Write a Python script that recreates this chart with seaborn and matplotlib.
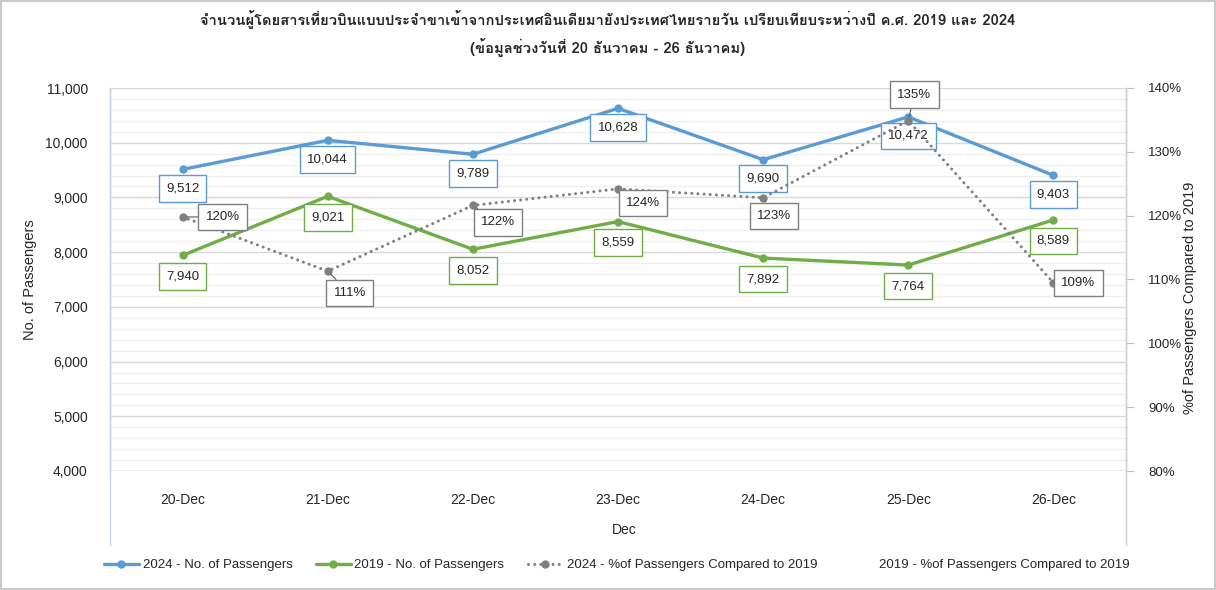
import numpy as np
import pandas as pd
import matplotlib
matplotlib.use("Agg")
import matplotlib.pyplot as plt
import seaborn as sns
from matplotlib import font_manager, ft2font
from matplotlib.lines import Line2D
from matplotlib.patches import Rectangle
from matplotlib.ticker import FuncFormatter, MultipleLocator, PercentFormatter

days = ["20-Dec", "21-Dec", "22-Dec", "23-Dec", "24-Dec", "25-Dec", "26-Dec"]
pax_2024 = [9512, 10044, 9789, 10628, 9690, 10472, 9403]
pax_2019 = [7940, 9021, 8052, 8559, 7892, 7764, 8589]
pct_2024 = [1.198, 1.113, 1.216, 1.242, 1.228, 1.349, 1.0948]

title = ("จำนวนผู้โดยสารเที่ยวบินแบบประจำขาเข้าจากประเทศอินเดียมายังประเทศไทยรายวัน "
         "เปรียบเทียบระหว่างปี ค.ศ. 2019 และ 2024\n(ข้อมูลช่วงวันที่ 20 ธันวาคม - 26 ธันวาคม)")

BLUE = "#5B9BD5"
GREEN = "#70AD47"
GREY = "#808080"
TXT = "#262626"
DOTS = (0, (0.01, 2.0))


def find_thai_font():
    for f in font_manager.fontManager.ttflist:
        try:
            if ft2font.FT2Font(f.fname).get_char_index(ord("จ")):
                return f.name
        except Exception:
            pass
    return None


sns.set_theme(style="white")
thai = find_thai_font()
fams = ([thai] if thai else []) + ["DejaVu Sans"]
plt.rcParams["font.family"] = ["Liberation Sans", "DejaVu Sans"]

df = pd.DataFrame({"pos": np.arange(len(days)), "day": days,
                   "p24": pax_2024, "p19": pax_2019, "pct": pct_2024})

fig = plt.figure(figsize=(12.16, 5.9), dpi=100)
ax = fig.add_axes([110 / 1216, 119 / 590, 1016 / 1216, 383 / 590])
ax2 = ax.twinx()

sns.lineplot(data=df, x="pos", y="p24", ax=ax, color=BLUE, lw=2.4,
             marker="o", markersize=6, markeredgewidth=0)
sns.lineplot(data=df, x="pos", y="p19", ax=ax, color=GREEN, lw=2.4,
             marker="o", markersize=6, markeredgewidth=0)
sns.lineplot(data=df, x="pos", y="pct", ax=ax2, color=GREY, lw=2.2,
             linestyle=DOTS, dash_capstyle="round",
             marker="o", markersize=6, markeredgewidth=0)

ax.set_xlim(-0.5, len(days) - 0.5)
ax.set_ylim(4000, 11000)
ax2.set_ylim(0.8, 1.4)

ax.yaxis.set_major_locator(MultipleLocator(1000))
ax.yaxis.set_minor_locator(MultipleLocator(200))
ax.yaxis.set_major_formatter(FuncFormatter(lambda v, p: f"{v:,.0f}"))
ax.grid(which="major", axis="y", color="#D9D9D9", lw=1)
ax.grid(which="minor", axis="y", color="#EFEFEF", lw=0.9)
ax.grid(False, axis="x")
ax2.grid(False)

ax2.yaxis.set_major_locator(MultipleLocator(0.1))
ax2.yaxis.set_major_formatter(PercentFormatter(1.0, decimals=0))

ax.set_xticks(df["pos"])
ax.set_xticklabels(days)
ax.tick_params(axis="x", length=0, pad=16, labelsize=10, labelcolor=TXT)
ax.tick_params(axis="y", which="both", length=0, pad=16, labelsize=10, labelcolor=TXT)
ax2.tick_params(axis="y", length=6, width=0.8, color="#BFBFBF", pad=10,
                labelsize=9.5, labelcolor=TXT)

for a in (ax, ax2):
    for s in ("top", "bottom"):
        a.spines[s].set_visible(False)
    a.spines["left"].set_color("#C9D3DF")
    a.spines["right"].set_color("#D0D0D0")
    a.spines["left"].set_linewidth(1)
    a.spines["right"].set_linewidth(1)
ax.axhline(4000, color="#C8C8C8", lw=1)

ax.set_ylabel("")
ax2.set_ylabel("")
ax.set_xlabel("")
fig.text(30 / 1216, 1 - 280 / 590, "No. of Passengers", rotation=90, ha="center",
         va="center", fontsize=10.5, color=TXT)
fig.text(1190 / 1216, 1 - 298 / 590, "%of Passengers Compared to 2019", rotation=90,
         ha="center", va="center", fontsize=10.5, color=TXT)
fig.text(624 / 1216, 1 - 530 / 590, "Dec", ha="center", va="center",
         fontsize=10, color=TXT)

# data labels
for i, v in enumerate(pax_2024):
    ax.annotate(f"{v:,}", (i, v), xytext=(0, -19), textcoords="offset pixels",
                ha="center", va="center", fontsize=9.5, color=TXT, zorder=5,
                bbox=dict(boxstyle="square,pad=0.55", fc="white", ec=BLUE, lw=1))
for i, v in enumerate(pax_2019):
    ax.annotate(f"{v:,}", (i, v), xytext=(0, -21), textcoords="offset pixels",
                ha="center", va="center", fontsize=9.5, color=TXT, zorder=5,
                bbox=dict(boxstyle="square,pad=0.55", fc="white", ec=GREEN, lw=1))

pct_offsets = [(40, 0), (22, -22), (25, -17), (25, -14), (11, -18), (6, 26), (25, 0)]
for i, v in enumerate(pct_2024):
    ax2.annotate(f"{v:.0%}", (i, v), xytext=pct_offsets[i], textcoords="offset pixels",
                 ha="center", va="center", fontsize=9.5, color=TXT, zorder=6,
                 bbox=dict(boxstyle="square,pad=0.55", fc="white", ec="#7F7F7F", lw=1),
                 arrowprops=dict(arrowstyle="-", color="#595959", lw=0.8,
                                 shrinkA=0, shrinkB=3))

# plot-area side borders running down past the category labels
for xpx, c in ((110, "#C9D3DF"), (1126, "#D0D0D0")):
    fig.add_artist(Line2D([xpx / 1216] * 2, [45 / 590, 119 / 590],
                          transform=fig.transFigure, color=c, lw=1))

fig.suptitle(title, y=1 - 10 / 590, va="top", fontsize=10.6, fontweight="bold",
             color=TXT, family=fams, linespacing=1.6)

handles = [
    Line2D([], [], color=BLUE, lw=2.4, marker="o", markersize=5),
    Line2D([], [], color=GREEN, lw=2.4, marker="o", markersize=5),
    Line2D([], [], color=GREY, lw=2.2, linestyle=DOTS,
           dash_capstyle="round", marker="o", markersize=5),
    Line2D([], [], color="white", lw=0),
]
labels = ["2024 - No. of Passengers", "2019 - No. of Passengers",
          "2024 - %of Passengers Compared to 2019",
          "2019 - %of Passengers Compared to 2019"]
fig.legend(handles, labels, loc="center", bbox_to_anchor=(617 / 1216, 1 - 565 / 590),
           ncol=4, frameon=False, fontsize=9.5, handlelength=2.6, handletextpad=0.3,
           columnspacing=1.8, labelcolor=TXT)

fig.add_artist(Rectangle((0.0008, 0.001), 0.9984, 0.997, transform=fig.transFigure,
                         fill=False, ec="#BFBFBF", lw=1.2))

fig.savefig("out.png", dpi=100, facecolor="white")
